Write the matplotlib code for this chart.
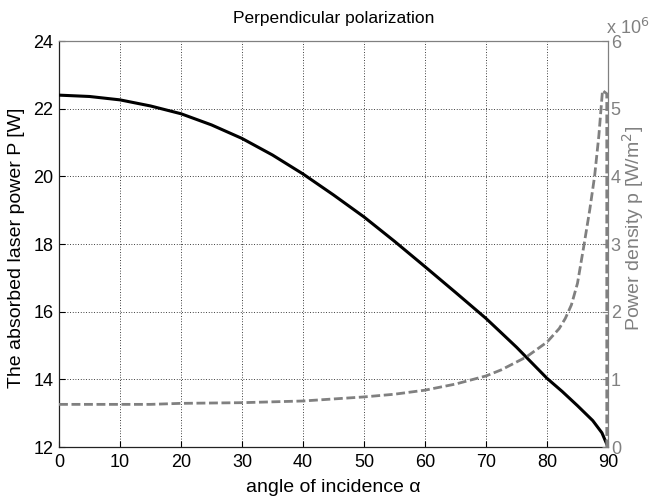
import matplotlib
matplotlib.use("Agg")
import matplotlib.pyplot as plt

plt.rcParams['font.family'] = ['Liberation Sans', 'DejaVu Sans']
plt.rcParams['font.size'] = 13

# Absorbed laser power P [W] vs angle of incidence
alpha_P = [0, 5, 10, 15, 20, 25, 30, 35, 40, 45, 50, 55, 60, 65, 70, 72.3, 75, 80, 82.5, 85,
           87.5, 89, 90]
P_vals = [22.40, 22.36, 22.26, 22.08, 21.85, 21.52, 21.12, 20.63, 20.07, 19.45, 18.80, 18.08,
          17.33, 16.57, 15.80, 15.41, 14.95, 14.03, 13.64, 13.22, 12.78, 12.42, 12.0]

# Power density p [x1e6 W/m^2]
alpha_p = [0, 10, 15, 20, 30, 40, 50, 55, 60, 65, 70, 72.5, 76.6, 80, 82, 83, 84, 85, 86, 87,
           87.8, 88.5, 89.1, 89.8, 89.8]
p_vals = [0.63, 0.63, 0.63, 0.645, 0.655, 0.68, 0.74, 0.78, 0.84, 0.93, 1.05, 1.14, 1.33, 1.55,
          1.75, 1.90, 2.10, 2.42, 2.95, 3.5, 4.0, 4.6, 5.27, 5.22, 0.0]

x_ticks = [0, 10, 20, 30, 40, 50, 60, 70, 80, 90]
left_ticks = [12, 14, 16, 18, 20, 22, 24]
right_ticks = [0, 1, 2, 3, 4, 5, 6]

title = "Perpendicular polarization"
xlabel = "angle of incidence α"
ylabel_left = "The absorbed laser power P [W]"
ylabel_right = "Power density p [W/m$^2$]"

gray = '#808080'
W, H = 651, 500
fig = plt.figure(figsize=(W / 100, H / 100), dpi=100)
L, R, T, B = 59, 608, 41, 447
ax = fig.add_axes([L / W, 1 - B / H, (R - L) / W, (B - T) / H])
ax2 = ax.twinx()

ax.plot(alpha_P, P_vals, color='black', lw=2.2, zorder=3)
ax2.plot(alpha_p, p_vals, color=gray, lw=2.0, dashes=(3.2, 1.3), zorder=3)

ax.set_xlim(0, 90)
ax.set_ylim(12, 24)
ax2.set_ylim(0, 6)
ax.set_xticks(x_ticks)
ax.set_yticks(left_ticks)
ax2.set_yticks(right_ticks)
ax.set_xticklabels([str(v) for v in x_ticks])
ax.set_yticklabels([str(v) for v in left_ticks])
ax2.set_yticklabels([str(v) for v in right_ticks])

ax.grid(True, color='black', linestyle=(0, (1, 2.2)), linewidth=0.6)
ax.set_axisbelow(True)

ax.tick_params(axis='both', direction='in', length=4, width=0.8, colors='black', labelsize=13, pad=4)
ax.tick_params(axis='x', pad=5)
ax2.tick_params(axis='y', direction='in', length=4, width=0.8, colors=gray, labelcolor=gray,
                labelsize=13, pad=2)

for s in ['left', 'bottom']:
    ax.spines[s].set_color('#222222')
    ax.spines[s].set_linewidth(0.9)
for s in ['top', 'right']:
    ax.spines[s].set_visible(False)
ax2.spines['left'].set_visible(False)
ax2.spines['bottom'].set_visible(False)
ax2.spines['right'].set_color(gray)
ax2.spines['top'].set_color(gray)
ax2.spines['right'].set_linewidth(0.9)
ax2.spines['top'].set_linewidth(0.9)

fig.text((L + R) / 2 / W, 1 - 18 / H, title, ha='center', va='center', fontsize=12.5)
fig.text((L + R) / 2 / W, 1 - 487 / H, xlabel, ha='center', va='center', fontsize=14)
fig.text(17 / W, 1 - 248 / H, ylabel_left, ha='center', va='center', rotation=90, fontsize=14)
fig.text(633 / W, 1 - 228 / H, ylabel_right, ha='center', va='center', rotation=90,
         fontsize=14, color=gray)
fig.text(606 / W, 1 - 28 / H, "x 10$^6$", ha='left', va='center', fontsize=13, color=gray)

fig.savefig("out.png", dpi=100)
